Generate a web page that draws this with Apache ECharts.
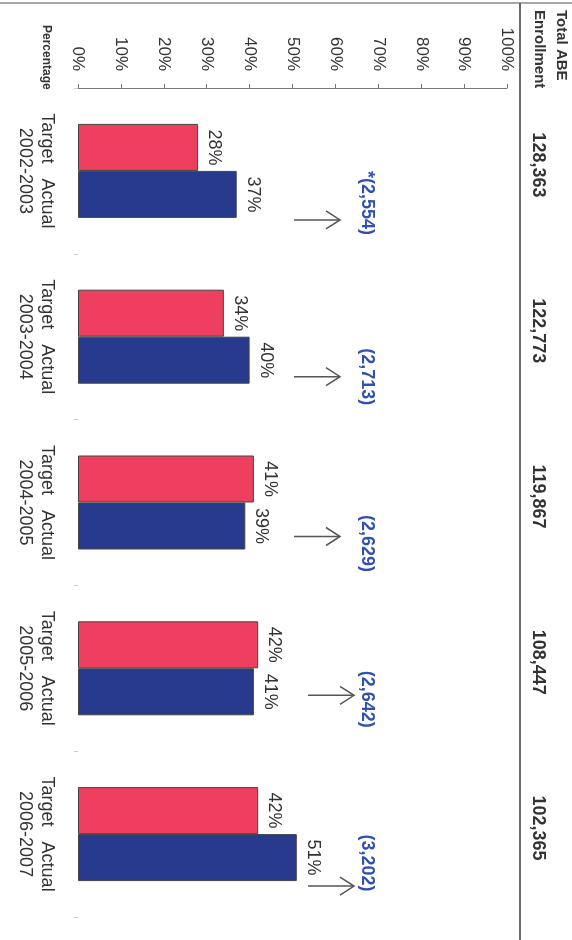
<!DOCTYPE html>
<html><head><meta charset="utf-8">
<script src="https://cdn.jsdelivr.net/npm/echarts@6/dist/echarts.min.js"></script>
<style>html,body{margin:0;padding:0;background:#fff}#c{width:572px;height:940px}</style>
</head><body><div id="c"></div>
<script>
// ---- data ----
const years = ['2002-2003', '2003-2004', '2004-2005', '2005-2006', '2006-2007'];
const targetPct = [28, 34, 41, 42, 42];
const actualPct = [37, 40, 39, 41, 51];
const enrollment = ['128,363', '122,773', '119,867', '108,447', '102,365'];
const changeLabels = ['*(2,554)', '(2,713)', '(2,629)', '(2,642)', '(3,202)'];
const barNames = ['Target', 'Actual'];
const pctTicks = [0, 10, 20, 30, 40, 50, 60, 70, 80, 90, 100];

// ---- annotation placement (pixels relative to each category centre) ----
const noteLayout = {
  arrowDx: [0, 0, 0, 14, 14],
  arrowDy: [49, 40, 34, 27, 52],
  labelDy: [32, 40, 41, 31, 29]
};

// ---- style ----
const FONT = '"Liberation Sans", Arial, sans-serif';
const RED = '#ef3f5f';
const BLUE = '#283a8e';
const TEXT = '#333';
const ROT = -Math.PI / 2;

const chart = echarts.init(document.getElementById('c'), null, { renderer: 'canvas' });

const barLabel = {
  show: true, position: 'right', distance: 7, rotate: -90,
  align: 'center', verticalAlign: 'bottom', formatter: '{c}%',
  fontSize: 18, fontFamily: FONT, color: TEXT
};

const option = {
  backgroundColor: '#fff',
  animation: false,
  grid: { left: 78, right: 65, top: 88, bottom: 23, containLabel: false },
  xAxis: {
    type: 'value', position: 'top', min: 0, max: 100, interval: 10,
    axisLine: { show: true, lineStyle: { color: '#777', width: 1 } },
    axisTick: { show: true, length: 4, lineStyle: { color: '#777' } },
    splitLine: { show: false },
    axisLabel: { show: false }
  },
  yAxis: [{
    type: 'category', data: years, inverse: true, position: 'left',
    axisLine: { show: false },
    axisTick: { show: true, length: 4, lineStyle: { color: '#ccc' } },
    axisLabel: {
      rotate: -90, margin: 20, interval: 0,
      formatter: v => barNames.join('   ') + '\n' + v,
      fontSize: 18, lineHeight: 22, fontFamily: FONT, color: TEXT
    }
  }, {
    type: 'category', data: years, inverse: true, position: 'right',
    axisLine: { show: false }, axisTick: { show: false },
    axisLabel: { show: false }
  }],
  series: [{
    name: barNames[0], type: 'bar', data: targetPct, barWidth: 47, barGap: '0%',
    itemStyle: { color: RED, borderColor: '#444', borderWidth: 1 },
    label: barLabel
  }, {
    name: barNames[1], type: 'bar', data: actualPct, barWidth: 47, barGap: '0%',
    itemStyle: { color: BLUE, borderColor: '#444', borderWidth: 1 },
    label: barLabel
  }, {
    // percentage tick labels, placed through the value axis scale
    name: 'ticks', type: 'custom', silent: true, clip: false,
    data: pctTicks.map(v => [v, 0]),
    encode: { x: 0, y: 1 },
    renderItem: (params, api) => {
      const v = api.value(0);
      const p = api.coord([v, 0]);
      return { type: 'text', x: p[0], y: 71, rotation: ROT,
        style: { text: v + '%', fill: TEXT, fontSize: 17, fontFamily: FONT,
                 align: 'right', verticalAlign: 'middle' } };
    }
  }, {
    // enrollment totals at right
    name: 'enrollment', type: 'custom', silent: true, clip: false,
    data: enrollment.map((t, i) => [0, i]),
    encode: { x: 0, y: 1 },
    renderItem: (params, api) => {
      const idx = api.value(1);
      const c = api.coord([0, idx]);
      return { type: 'text', x: 538, y: c[1] - 6, rotation: ROT,
        style: { text: enrollment[idx], fill: TEXT, fontSize: 18, fontWeight: 'bold',
                 fontFamily: FONT, align: 'center', verticalAlign: 'middle' } };
    }
  }, {
    name: 'change', type: 'custom', silent: true, clip: false,
    data: changeLabels.map((t, i) => [0, i]),
    encode: { x: 0, y: 1 },
    renderItem: (params, api) => {
      const idx = api.value(1);
      const c = api.coord([0, idx]);
      const ay = c[1] + noteLayout.arrowDy[idx];
      const x1 = 294 + noteLayout.arrowDx[idx], x2 = x1 + 46;
      return {
        type: 'group',
        children: [
          { type: 'line', shape: { x1: x1, y1: ay, x2: x2, y2: ay },
            style: { stroke: '#555', lineWidth: 1.5 } },
          { type: 'polyline', shape: { points: [[x2 - 14, ay - 9], [x2, ay], [x2 - 14, ay + 9]] },
            style: { stroke: '#555', lineWidth: 1.5, fill: null } },
          { type: 'text', x: 367, y: c[1] + noteLayout.labelDy[idx], rotation: ROT,
            style: { text: changeLabels[idx], fill: '#2f50b0', fontSize: 18, fontWeight: 'bold',
                     fontFamily: FONT, align: 'center', verticalAlign: 'middle' } }
        ]
      };
    }
  }],
  graphic: [
    { type: 'line', shape: { x1: 0, y1: 3, x2: 572, y2: 3 }, style: { stroke: '#8a8a8a', lineWidth: 1.5 } },
    { type: 'line', shape: { x1: 520, y1: 3, x2: 520, y2: 940 }, style: { stroke: '#6a6a6a', lineWidth: 2 } },
    { type: 'text', x: 561, y: 10, rotation: ROT,
      style: { text: 'Total ABE', fill: TEXT, fontSize: 15, fontWeight: 'bold', fontFamily: FONT, align: 'left', verticalAlign: 'middle' } },
    { type: 'text', x: 539, y: 10, rotation: ROT,
      style: { text: 'Enrollment', fill: TEXT, fontSize: 15, fontWeight: 'bold', fontFamily: FONT, align: 'left', verticalAlign: 'middle' } },
    { type: 'text', x: 46, y: 25, rotation: ROT,
      style: { text: 'Percentage', fill: TEXT, fontSize: 12, fontWeight: 'bold', fontFamily: FONT, align: 'left', verticalAlign: 'middle' } }
  ]
};
chart.setOption(option);
</script>
</body></html>
